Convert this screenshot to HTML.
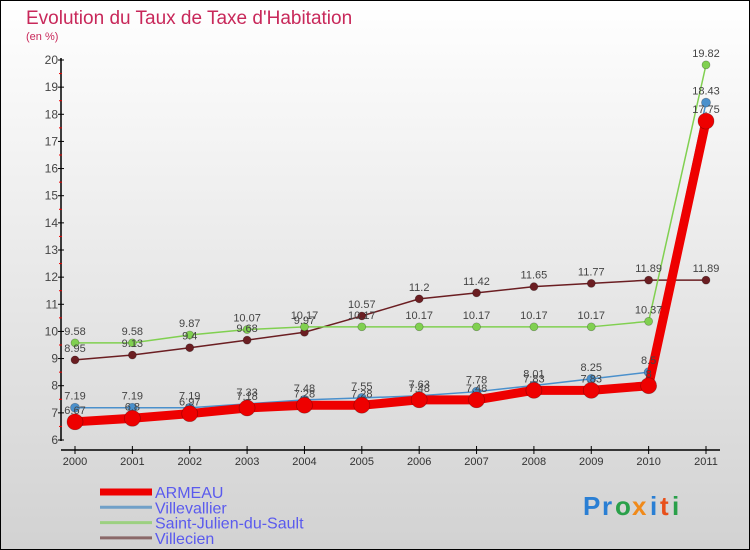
<!DOCTYPE html>
<html><head><meta charset="utf-8">
<style>
html,body{margin:0;padding:0;}
body{width:750px;height:550px;overflow:hidden;font-family:"Liberation Sans",sans-serif;}
svg{display:block;}
</style></head>
<body>
<svg id="chart" width="750" height="550" xmlns="http://www.w3.org/2000/svg">
<defs>
<linearGradient id="bg" x1="0" y1="0" x2="0" y2="1">
<stop offset="0" stop-color="#ffffff"/><stop offset="1" stop-color="#d2d2d2"/>
</linearGradient>
</defs>
<rect x="0.5" y="0.5" width="749" height="549" fill="url(#bg)" stroke="#000"/>
<text x="26" y="24" font-size="19" fill="#c8285a">Evolution du Taux de Taxe d'Habitation</text>
<text x="26" y="40" font-size="11" fill="#c8285a">(en %)</text>
<g id="axes"></g>
<g id="series"></g>
<g id="labels"></g>
<g id="legend"></g>
<g font-size="26" font-weight="bold">
<text x="583" y="515" fill="#2a7fd4">P</text>
<text x="602" y="515" fill="#2a7fd4">r</text>
<text x="615" y="515" fill="#2aa04a">o</text>
<text x="632" y="515" fill="#f08a1a">x</text>
<text x="650" y="515" fill="#2a7fd4">i</text>
<text x="660" y="515" fill="#e8501a">t</text>
<text x="672" y="515" fill="#2aa04a">i</text>
</g>
</svg>
<script>
const years = ['2000','2001','2002','2003','2004','2005','2006','2007','2008','2009','2010','2011'];
const armeau = [6.67,6.8,6.97,7.18,7.28,7.28,7.48,7.48,7.83,7.83,8.0,17.75];
const villevallier = [7.19,7.19,7.19,7.33,7.48,7.55,7.63,7.78,8.01,8.25,8.5,18.43];
const saintJulien = [9.58,9.58,9.87,10.07,10.17,10.17,10.17,10.17,10.17,10.17,10.37,19.82];
const villecien = [8.95,9.13,9.4,9.68,9.97,10.57,11.2,11.42,11.65,11.77,11.89,11.89];
const yTicks = [6,7,8,9,10,11,12,13,14,15,16,17,18,19,20];

const NS='http://www.w3.org/2000/svg';
const X0=75, X1=706, Y6=440, Y20=60;
function xs(i){return X0+(X1-X0)*i/(years.length-1);}
function ys(v){return Y6-(v-6)*(Y6-Y20)/14;}
function mk(tag,attrs,parent){const e=document.createElementNS(NS,tag);for(const k in attrs)e.setAttribute(k,attrs[k]);parent.appendChild(e);return e;}

const axes=document.getElementById('axes');
let a=mk('line',{x1:61,y1:58,x2:61,y2:441,stroke:'#000','stroke-width':1.5},axes);


yTicks.forEach(t=>{
  const l=mk('line',{x1:58,y1:ys(t),x2:64,y2:ys(t),stroke:'#000'},axes);
  
  
  const tx=mk('text',{x:58,y:ys(t)+4,'font-size':12,fill:'#444','text-anchor':'end'},axes);
  tx.textContent=t;
  
  
  if(t<20){const m=mk('line',{x1:59,y1:ys(t+0.5),x2:62,y2:ys(t+0.5),stroke:'#e00'},axes);
  
  }
});
a=mk('line',{x1:61,y1:450,x2:720,y2:450,stroke:'#000','stroke-width':1.5},axes);


years.forEach((y,i)=>{
  const l=mk('line',{x1:xs(i),y1:446,x2:xs(i),y2:454,stroke:'#000'},axes);
  
  
  const tx=mk('text',{x:xs(i),y:465,'font-size':11,fill:'#333','text-anchor':'middle'},axes);
  tx.textContent=y;
  
  
});

const ser=document.getElementById('series'), lab=document.getElementById('labels');
const defs=[
 {name:'villecien',data:villecien,color:'#6b1e22',w:1.5,r:4,legend:'Villecien',lc:'#8a6868'},
 {name:'saint-julien-du-sault',data:saintJulien,color:'#80d050',w:1.5,r:4,legend:'Saint-Julien-du-Sault',lc:'#9cd080'},
 {name:'villevallier',data:villevallier,color:'#4a90cc',w:1.5,r:4.5,legend:'Villevallier',lc:'#70a0c8'},
 {name:'armeau',data:armeau,color:'#ee0000',w:9,r:8,legend:'ARMEAU',lc:'#ee0000'}
];
defs.forEach(d=>{
  const pts=d.data.map((v,i)=>xs(i)+','+ys(v)).join(' ');
  const pl=mk('polyline',{points:pts,fill:'none',stroke:d.color,'stroke-width':d.w,'stroke-linejoin':'round'},ser);
  
  
  d.data.forEach((v,i)=>{
    const c=mk('circle',{cx:xs(i),cy:ys(v),r:d.r,fill:d.color,stroke:'rgba(0,0,0,0.3)','stroke-width':0.7},ser);
    
    
    const t=mk('text',{x:xs(i),y:ys(v)-8,'font-size':11,fill:'#444','text-anchor':'middle'},lab);
    t.textContent=v;
    
    
  });
});

const lg=document.getElementById('legend');
['armeau','villevallier','saint-julien-du-sault','villecien'].forEach((n,k)=>{
  const d=defs.find(e=>e.name===n);
  const yy=492+k*15.3;
  const l=mk('line',{x1:100,y1:yy,x2:152,y2:yy,stroke:d.lc,'stroke-width':k===0?7:3},lg);
  
  
  const t=mk('text',{x:155,y:yy+6,'font-size':16,fill:'#5a5aee'},lg);
  t.textContent=d.legend;
  
  
});
</script>
</body></html>
